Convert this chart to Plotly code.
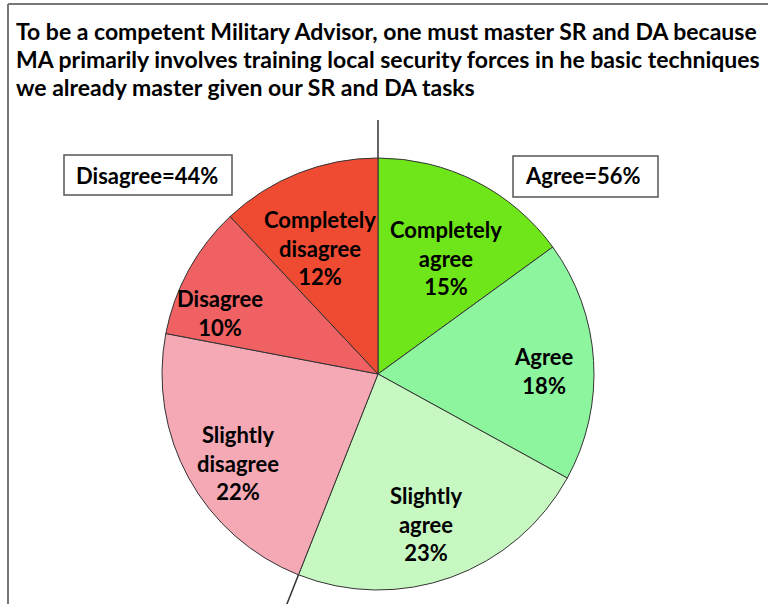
import numpy as np
import plotly.graph_objects as go

W, H = 770, 604

TITLE_LINES = [
    "To be a competent Military Advisor, one must master SR and DA because",
    "MA primarily involves training local security forces in he basic techniques",
    "we already master given our SR and DA tasks",
]

labels = [
    "Completely<br>agree",
    "Agree",
    "Slightly<br>agree",
    "Slightly<br>disagree",
    "Disagree",
    "Completely<br>disagree",
]
values = [15, 18, 23, 22, 10, 12]
colors = ["#6EE619", "#8CF59E", "#C8F8C2", "#F4A9B5", "#EF6163", "#EF4A32"]
agree_idx = [0, 1, 2]
disagree_idx = [3, 4, 5]

# label placement: fraction of radius, and nudge (degrees) off the mid angle
label_radius = [0.63, 0.77, 0.72, 0.76, 0.79, 0.65]
label_nudge = [3, 2, 2, -3, -7, -3]

FONT = "Lato"

# pie geometry in pixels
cx, cy, r = 378, 374, 216


def px(x):
    return x / W


def py(y):
    return 1 - y / H


fig = go.Figure(
    go.Pie(
        labels=labels,
        values=values,
        sort=False,
        direction="clockwise",
        rotation=0,
        marker=dict(colors=colors, line=dict(color="#333333", width=1)),
        textinfo="none",
        showlegend=False,
        hoverinfo="label+value",
        domain=dict(x=[px(cx - r), px(cx + r)], y=[py(cy + r), py(cy - r)]),
    )
)

annotations = []
for i, line in enumerate(TITLE_LINES):
    annotations.append(
        dict(
            x=px(14), y=py(31 + 28 * i), xref="paper", yref="paper",
            xanchor="left", yanchor="middle", showarrow=False,
            text=f"<b>{line}</b>",
            font=dict(family=FONT, size=23, color="black"),
        )
    )

# slice labels near the middle angle of each slice
total = sum(values)
cum = np.cumsum([0] + values[:-1])
for lab, v, c0, fr, nd in zip(labels, values, cum, label_radius, label_nudge):
    th = 2 * np.pi * (c0 + v / 2) / total + np.radians(nd)
    lx = cx + fr * r * np.sin(th)
    ly = cy - fr * r * np.cos(th)
    annotations.append(
        dict(
            x=px(lx), y=py(ly + 2), xref="paper", yref="paper",
            xanchor="center", yanchor="middle", showarrow=False,
            text=f"<b>{lab}<br>{v}%</b>",
            font=dict(family=FONT, size=22, color="black"),
        )
    )

agree_total = sum(values[i] for i in agree_idx)
disagree_total = sum(values[i] for i in disagree_idx)

for txt, x0, x1 in [
    (f"Disagree={disagree_total}%", 64, 232),
    (f"Agree={agree_total}%", 513, 658),
]:
    annotations.append(
        dict(
            x=px(x0 + 10), y=py(176), xref="paper", yref="paper",
            xanchor="left", yanchor="middle", showarrow=False,
            text=f"<b>{txt}</b>",
            font=dict(family=FONT, size=22, color="black"),
        )
    )

shapes = [
    # outer frame (top + left)
    dict(type="line", xref="paper", yref="paper", x0=px(8), x1=px(768),
         y0=py(4), y1=py(4), line=dict(color="#777777", width=2)),
    dict(type="line", xref="paper", yref="paper", x0=px(8), x1=px(8),
         y0=py(4), y1=py(H + 2), line=dict(color="#777777", width=2)),
    # label boxes
    dict(type="rect", xref="paper", yref="paper", x0=px(64), x1=px(232),
         y0=py(155), y1=py(195), line=dict(color="#555555", width=1.5)),
    dict(type="rect", xref="paper", yref="paper", x0=px(513), x1=px(658),
         y0=py(156), y1=py(197), line=dict(color="#555555", width=1.5)),
]

# leader lines splitting agree / disagree, along the radius
for frac, ext in [(0.0, 38), (agree_total / total, 32)]:
    th = 2 * np.pi * frac
    sx, sy = np.sin(th), -np.cos(th)
    shapes.append(
        dict(type="line", xref="paper", yref="paper",
             x0=px(cx + r * sx), y0=py(cy + r * sy),
             x1=px(cx + (r + ext) * sx), y1=py(cy + (r + ext) * sy),
             line=dict(color="#333333", width=1.5))
    )

fig.update_layout(
    width=W, height=H,
    margin=dict(l=0, r=0, t=0, b=0),
    paper_bgcolor="white",
    plot_bgcolor="white",
    annotations=annotations,
    shapes=shapes,
)

fig.write_html(
    "out.html",
    config={"displayModeBar": False},
    post_script="document.body.style.margin='0px';",
)
